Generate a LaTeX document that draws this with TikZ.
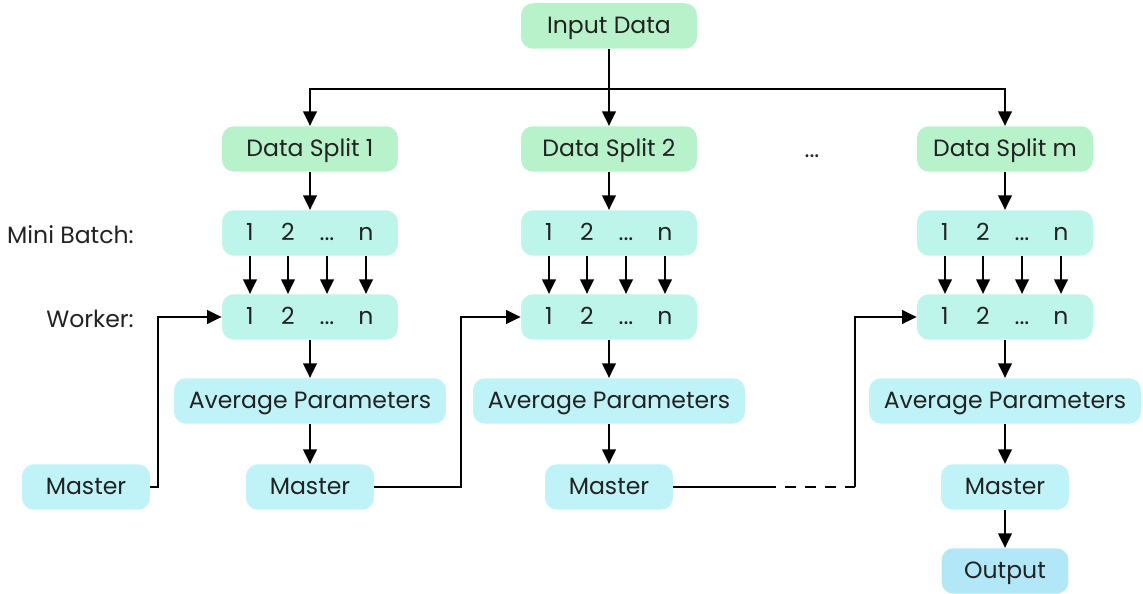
\documentclass[tikz,border=0pt]{standalone}
\usepackage{fontspec}
\setmainfont{Poppins}
\usetikzlibrary{arrows.meta}

\definecolor{splitGreen}{HTML}{B8F2CA}
\definecolor{batchMint}{HTML}{BEF5EA}
\definecolor{avgCyan}{HTML}{BFF3F7}
\definecolor{outBlue}{HTML}{B2E7F8}
\definecolor{inkGrey}{HTML}{222222}
\newcommand{\dotText}{...}

\begin{document}
\begin{tikzpicture}[x=0.02cm, y=-0.02cm,
    font=\fontsize{13.4}{15}\selectfont, text=inkGrey,
    textStyle/.style={text height=1.0em, text depth=0.1em},
    boxStyle/.style={textStyle, rounded corners=0.24cm, minimum height=0.91cm, inner sep=0pt},
    splitStyle/.style={boxStyle, fill=splitGreen, minimum width=3.52cm},
    batchStyle/.style={boxStyle, fill=batchMint, minimum width=3.52cm},
    avgStyle/.style={boxStyle, fill=avgCyan, minimum width=5.44cm},
    masterStyle/.style={boxStyle, fill=avgCyan, minimum width=2.56cm},
    outStyle/.style={boxStyle, fill=outBlue, minimum width=2.54cm},
    lineStyle/.style={line width=1.2pt},
    arrStyle/.style={lineStyle, -{Triangle[width=0.27cm, length=0.29cm]}}]
    \useasboundingbox (0,0) rectangle (1143,594);

    \node[splitStyle](input) at (609, 26) {Input Data};
    \coordinate (bus) at (609, 89);

    % three columns
    \foreach \c/\x/\lab in {1/310/1, 2/609/2, 3/1005/m} {
        \node[splitStyle](split\c) at (\x, 149) {Data Split \lab};
        \node[batchStyle](mb\c) at (\x, 233) {};
        \node[batchStyle](wk\c) at (\x, 317) {};
        \foreach \k/\dx/\t in {1/-60/1, 2/-22/2, 3/17/\dotText, 4/56/n} {
            \node[textStyle](mb\c-\k) at (\x+\dx, 233) {\t};
            \node[textStyle](wk\c-\k) at (\x+\dx, 317) {\t};
            \draw[arrStyle] (mb\c-\k |- mb\c.south) -- (wk\c-\k |- wk\c.north);
        }
        \node[avgStyle](avg\c) at (\x, 401) {Average Parameters};
        \node[masterStyle](master\c) at (\x, 487) {Master};

        \draw[arrStyle] (split\c) -- (mb\c);
        \draw[arrStyle] (wk\c) -- (avg\c);
        \draw[arrStyle] (avg\c) -- (master\c);
    }
    \node[textStyle](dots) at (812, 150) {...};
    \node[masterStyle](master0) at (86, 487) {Master};
    \node[outStyle](output) at (1005, 571) {Output};

    \node[textStyle, anchor=east, inner sep=0pt](mbLabel) at (134, 236) {Mini Batch:};
    \node[textStyle, anchor=east, inner sep=0pt](wkLabel) at (134, 320) {Worker:};

    \draw[arrStyle] (input) -- (split2);
    \draw[arrStyle] (bus) -| (split1);
    \draw[arrStyle] (bus) -| (split3);
    \draw[arrStyle] (master3) -- (output);

    \draw[arrStyle] (master0.east) -- ++(8,0) |- (wk1.west);
    \draw[arrStyle] (master1.east) -- ++(87,0) |- (wk2.west);
    \coordinate (gapA) at (765, 487);
    \coordinate (gapB) at (855, 487);
    \draw[lineStyle] (master2.east) -- (gapA);
    \draw[lineStyle, dash pattern=on 0.22cm off 0.18cm] (gapA) -- (gapB);
    \draw[arrStyle] (gapB) |- (wk3.west);
\end{tikzpicture}
\end{document}
